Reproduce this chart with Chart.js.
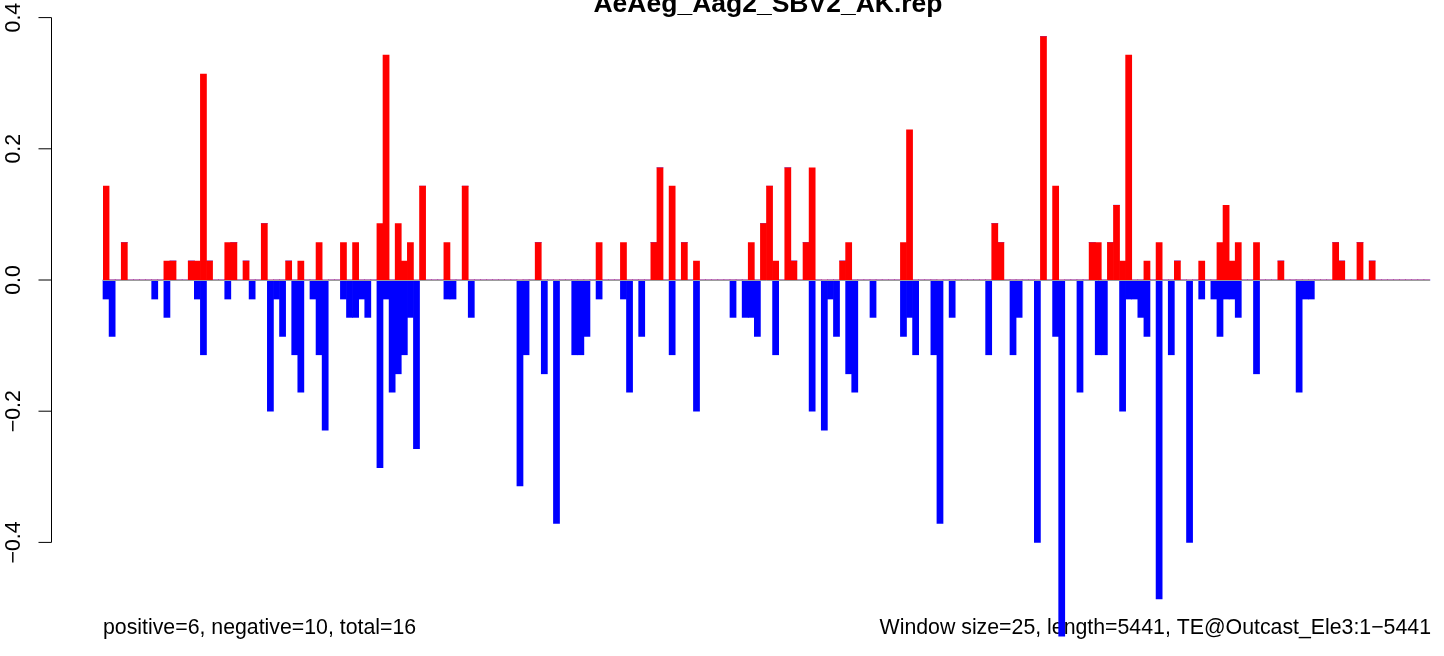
<!DOCTYPE html>
<html>
<head>
<meta charset="utf-8">
<title>AeAeg_Aag2_SBV2_AK.rep</title>
<script src="https://cdn.jsdelivr.net/npm/chart.js@4.4.1/dist/chart.umd.min.js"></script>
<style>
  html, body { margin: 0; padding: 0; background: #fff; }
  #wrap { width: 1444px; height: 656px; }
</style>
</head>
<body>
<div id="wrap"><canvas id="repChart" width="1444" height="656"></canvas></div>
<script>
// values, one entry per 25 bp window (218 windows)
const positive = [
  0.143,0,0,0.057,0,0,0,0,0,0,
  0.029,0.029,0,0,0.029,0.029,0.314,0.029,0,0,
  0.057,0.057,0,0.029,0,0,0.086,0,0,0,
  0.029,0,0.029,0,0,0.057,0,0,0,0.057,
  0,0.057,0,0,0,0.086,0.343,0,0.086,0.029,
  0.057,0,0.143,0,0,0,0.057,0,0,0.143,
  0,0,0,0,0,0,0,0,0,0,
  0,0.057,0,0,0,0,0,0,0,0,
  0,0.057,0,0,0,0.057,0,0,0,0,
  0.057,0.171,0,0.143,0,0.057,0,0.029,0,0,
  0,0,0,0,0,0,0.057,0,0.086,0.143,
  0.029,0,0.171,0.029,0,0.057,0.171,0,0,0,
  0,0.029,0.057,0,0,0,0,0,0,0,
  0,0.057,0.229,0,0,0,0,0,0,0,
  0,0,0,0,0,0,0.086,0.057,0,0,
  0,0,0,0,0.371,0,0.143,0,0,0,
  0,0,0.057,0.057,0,0.057,0.114,0.029,0.343,0,
  0,0.029,0,0.057,0,0,0.029,0,0,0,
  0.029,0,0,0.057,0.114,0.029,0.057,0,0,0.057,
  0,0,0,0.029,0,0,0,0,0,0,
  0,0,0.057,0.029,0,0,0.057,0,0.029,0,
  0,0,0,0,0,0,0,0
];

const negative = [
  -0.029,-0.086,0,0,0,0,0,0,-0.029,0,
  -0.057,0,0,0,0,-0.029,-0.114,0,0,0,
  -0.029,0,0,0,-0.029,0,0,-0.2,-0.029,-0.086,
  0,-0.114,-0.171,0,-0.029,-0.114,-0.229,0,0,-0.029,
  -0.057,-0.057,-0.029,-0.057,0,-0.286,-0.029,-0.171,-0.143,-0.114,
  -0.057,-0.257,0,0,0,0,-0.029,-0.029,0,0,
  -0.057,0,0,0,0,0,0,0,-0.314,-0.114,
  0,0,-0.143,0,-0.371,0,0,-0.114,-0.114,-0.086,
  0,-0.029,0,0,0,-0.029,-0.171,0,-0.086,0,
  0,0,0,-0.114,0,0,0,-0.2,0,0,
  0,0,0,-0.057,0,-0.057,-0.057,-0.086,0,0,
  -0.114,0,0,0,0,0,-0.2,0,-0.229,-0.029,
  -0.086,0,-0.143,-0.171,0,0,-0.057,0,0,0,
  0,-0.086,-0.057,-0.114,0,0,-0.114,-0.371,0,-0.057,
  0,0,0,0,0,-0.114,0,0,0,-0.114,
  -0.057,0,0,-0.4,0,0,-0.086,-0.543,0,0,
  -0.171,0,0,-0.114,-0.114,0,0,-0.2,-0.029,-0.029,
  -0.057,-0.086,0,-0.486,0,-0.114,0,0,-0.4,0,
  -0.029,0,-0.029,-0.086,-0.029,-0.029,-0.057,0,0,-0.143,
  0,0,0,0,0,0,-0.171,-0.029,-0.029,0,
  0,0,0,0,0,0,0,0,0,0,
  0,0,0,0,0,0,0,0
];

const yTicks = [-0.4, -0.2, 0, 0.2, 0.4];
const yTickLabels = ['\u22120.4', '\u22120.2', '0.0', '0.2', '0.4'];
const windowStarts = positive.map((v, i) => i * 25 + 1);

const titleText = 'AeAeg_Aag2_SBV2_AK.rep';
const leftNote = 'positive=6, negative=10, total=16';
const rightNote = 'Window size=25, length=5441, TE@Outcast_Ele3:1\u22125441';

const FONT = "'Liberation Sans', Arial, Helvetica, sans-serif";

// texts drawn under the bars, axis and zero line drawn over them
const decorations = {
  id: 'decorations',
  beforeDatasetsDraw(chart) {
    const ctx = chart.ctx;
    const area = chart.chartArea;
    ctx.save();
    ctx.fillStyle = '#000';
    ctx.font = 'bold 26.5px ' + FONT;
    ctx.textAlign = 'center';
    ctx.textBaseline = 'alphabetic';
    ctx.fillText(titleText, 768, 11.5);

    ctx.font = '21.3px ' + FONT;
    ctx.textAlign = 'left';
    ctx.fillText(leftNote, area.left, 634);
    ctx.textAlign = 'right';
    ctx.fillText(rightNote, 1431, 634);
    ctx.restore();
  },
  afterDatasetsDraw(chart) {
    const ctx = chart.ctx;
    const area = chart.chartArea;
    const y = chart.scales.y;
    ctx.save();

    // zero line
    const y0 = Math.round(y.getPixelForValue(0)) + 0.5;
    ctx.strokeStyle = '#9c9c9c';
    ctx.lineWidth = 1;
    ctx.beginPath();
    ctx.moveTo(area.left, y0);
    ctx.lineTo(area.right, y0);
    ctx.stroke();

    // y axis
    const axisX = 51.5;
    const top = y.getPixelForValue(yTicks[yTicks.length - 1]);
    const bottom = y.getPixelForValue(yTicks[0]);
    ctx.strokeStyle = '#000';
    ctx.beginPath();
    ctx.moveTo(axisX, top);
    ctx.lineTo(axisX, bottom);
    yTicks.forEach(t => {
      const py = y.getPixelForValue(t);
      ctx.moveTo(axisX, py);
      ctx.lineTo(axisX - 13, py);
    });
    ctx.stroke();

    ctx.fillStyle = '#000';
    ctx.font = '21.3px ' + FONT;
    ctx.textAlign = 'center';
    ctx.textBaseline = 'alphabetic';
    yTicks.forEach((t, i) => {
      const py = y.getPixelForValue(t);
      ctx.save();
      ctx.translate(20, py);
      ctx.rotate(-Math.PI / 2);
      ctx.fillText(yTickLabels[i], 0, 0);
      ctx.restore();
    });
    ctx.restore();
  }
};

new Chart(document.getElementById('repChart').getContext('2d'), {
  type: 'bar',
  data: {
    labels: windowStarts,
    datasets: [{
      label: 'positive',
      data: positive,
      backgroundColor: '#ff0000',
      borderWidth: 0,
      barPercentage: 1,
      categoryPercentage: 1
    }, {
      label: 'negative',
      data: negative,
      backgroundColor: '#0000ff',
      borderWidth: 0,
      barPercentage: 1,
      categoryPercentage: 1,
      clip: false
    }]
  },
  options: {
    responsive: false,
    animation: false,
    layout: {
      padding: { left: 103, right: 14, top: 4.48, bottom: 15.2 }
    },
    plugins: {
      legend: { display: false },
      tooltip: { enabled: false },
      title: { display: false }
    },
    scales: {
      x: { stacked: true, display: false },
      y: { stacked: true, display: false, min: -0.55, max: 0.42 }
    }
  },
  plugins: [decorations]
});
</script>
</body>
</html>
